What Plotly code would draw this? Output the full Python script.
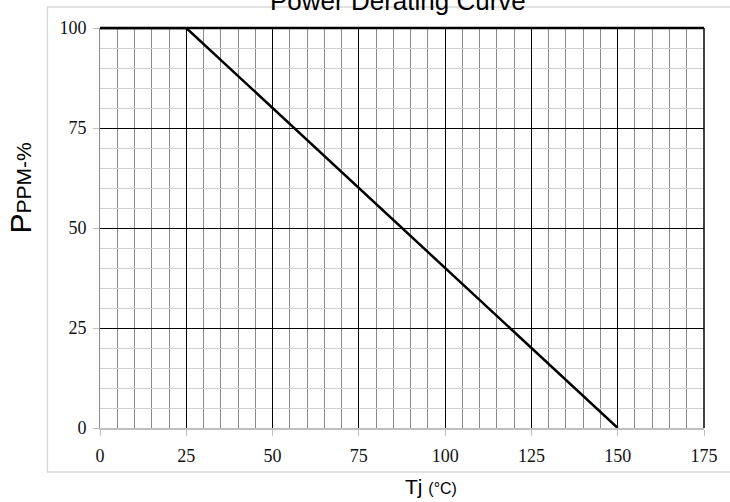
import plotly.graph_objects as go

# Data
temp_c = [0, 25, 150]
power_pct = [100, 100, 0]
x_ticks = [0, 25, 50, 75, 100, 125, 150, 175]
y_ticks = [0, 25, 50, 75, 100]
x_minor_step = 5
y_minor_step = 5

W, H = 730, 502
L, R, T, B = 100, 22, 28, 74
pw, ph = W - L - R, H - T - B

def px2paper_x(px):
    return (px - L) / pw

def px2paper_y(py):
    return (H - B - py) / ph

fig = go.Figure()
fig.add_trace(go.Scatter(x=temp_c, y=power_pct, mode="lines",
                         line=dict(color="black", width=2.5), hoverinfo="skip",
                         showlegend=False))

tick_font = dict(family="Liberation Serif", size=18, color="#111111")

fig.update_xaxes(range=[x_ticks[0], x_ticks[-1]], tickmode="linear",
                 tick0=x_ticks[0], dtick=x_ticks[1] - x_ticks[0],
                 showgrid=True, gridcolor="black", gridwidth=1,
                 minor=dict(tickmode="linear", tick0=0, dtick=x_minor_step, showgrid=True,
                            gridcolor="#8a8a8a", gridwidth=1, ticks=""),
                 showline=True, linecolor="#bfbfbf", linewidth=2,
                 ticks="outside", ticklen=6, tickcolor="#bfbfbf", tickwidth=1,
                 tickfont=tick_font, ticklabelstandoff=4, zeroline=False, fixedrange=True)
fig.update_yaxes(range=[y_ticks[0], y_ticks[-1]], tickmode="linear",
                 tick0=y_ticks[0], dtick=y_ticks[1] - y_ticks[0],
                 showgrid=True, gridcolor="black", gridwidth=1,
                 minor=dict(tickmode="linear", tick0=0, dtick=y_minor_step, showgrid=True,
                            gridcolor="#d0d0d0", gridwidth=1, ticks=""),
                 showline=True, linecolor="#8a8a8a", linewidth=1,
                 ticks="outside", ticklen=6, tickcolor="#bfbfbf", tickwidth=1,
                 tickfont=tick_font, ticklabelstandoff=3, zeroline=False, fixedrange=True)

shapes = [
    dict(type="rect", xref="paper", yref="paper",
         x0=px2paper_x(47), x1=px2paper_x(740), y0=px2paper_y(472), y1=px2paper_y(7),
         line=dict(color="#d9d9d9", width=1.5), fillcolor="rgba(0,0,0,0)", layer="below"),
    dict(type="line", xref="paper", yref="paper", x0=0, x1=1, y0=1, y1=1,
         line=dict(color="black", width=2.5)),
    dict(type="line", xref="paper", yref="paper", x0=1, x1=1, y0=0, y1=1,
         line=dict(color="black", width=1.5)),
]

annotations = [
    dict(text="Power Derating Curve", xref="paper", yref="paper",
         x=px2paper_x(400), y=px2paper_y(1), xanchor="center", yanchor="middle",
         showarrow=False, font=dict(family="Liberation Sans", size=26, color="black")),
    dict(text="Tj <span style='font-size:16px'>(°C)</span>", xref="paper", yref="paper",
         x=px2paper_x(433), y=px2paper_y(486), xanchor="center", yanchor="middle",
         showarrow=False, font=dict(family="Liberation Sans", size=21, color="black")),
    dict(text="<span style='font-size:30px'>P</span>PPM-%", xref="paper", yref="paper",
         x=px2paper_x(19), y=px2paper_y(188), xanchor="center", yanchor="middle",
         textangle=-90, showarrow=False,
         font=dict(family="Liberation Sans", size=21, color="black")),
]

fig.update_layout(width=W, height=H, margin=dict(l=L, r=R, t=T, b=B, pad=0),
                  plot_bgcolor="white", paper_bgcolor="white",
                  shapes=shapes, annotations=annotations, showlegend=False)

fig.write_html("out.html", config={"displayModeBar": False},
               post_script="document.body.style.margin='0';document.body.style.overflow='hidden';")
